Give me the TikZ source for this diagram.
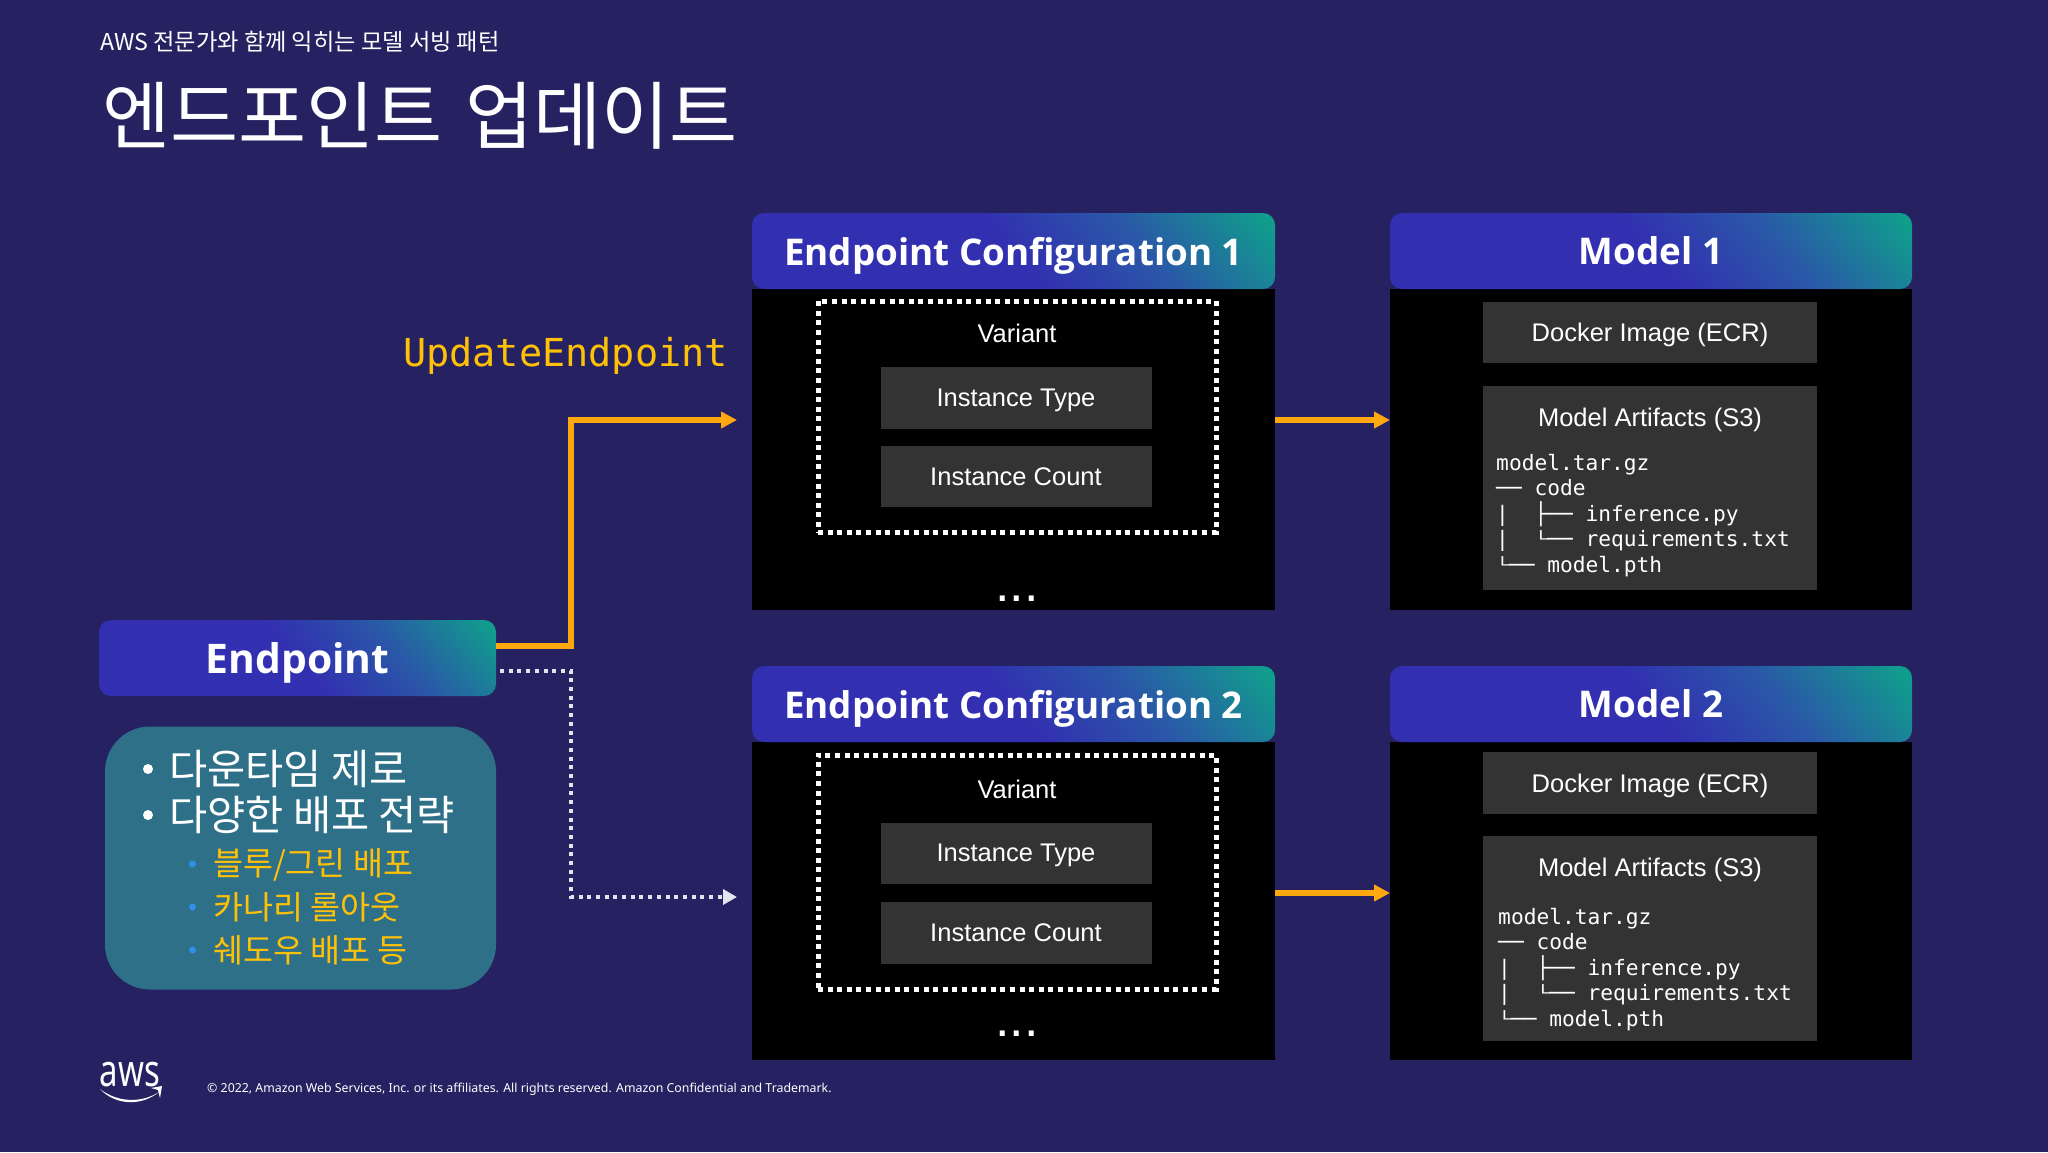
\documentclass[tikz,border=0pt]{standalone}
\usepackage{fontspec}
\usetikzlibrary{arrows.meta}
\setmainfont{Liberation Sans}
\newfontfamily\krfont{Noto Sans CJK KR}
\newfontfamily\headfont{Open Sans}
\newfontfamily\footfont{Noto Sans}
\newfontfamily\codefont{DejaVu Sans Mono}
\definecolor{bgblue}{HTML}{262262}
\definecolor{hdrblue}{HTML}{3230B0}
\definecolor{hdrmid}{HTML}{2A58A8}
\definecolor{hdrteal}{HTML}{109E8C}
\definecolor{boxgrey}{HTML}{333333}
\definecolor{panelteal}{HTML}{2E7088}
\definecolor{arrorange}{HTML}{FFA90F}
\definecolor{txtyellow}{HTML}{FFC107}
\definecolor{dotblue}{HTML}{2E90E8}
\definecolor{dotwhite}{HTML}{E4E4F0}

\pgfdeclarehorizontalshading{hdrshade}{100bp}{color(0bp)=(hdrblue); color(50bp)=(hdrblue); color(66bp)=(hdrmid); color(84bp)=(hdrteal); color(100bp)=(hdrteal)}

% short corner of the file tree
\newcommand{\treeL}{\raisebox{2pt}[0pt][0pt]{\scalebox{1}[0.7]{└}}}

\tikzset{
	header/.style={
		rectangle, rounded corners=12pt,
		shading=hdrshade, shading angle=40,
		text=white, inner sep=0pt, outer sep=0pt,
		minimum height=76pt, text depth=0pt,
		font=\headfont\bfseries\fontsize{36.8}{46}\selectfont,
	},
	panel/.style={
		rectangle, fill=black, inner sep=0pt, outer sep=0pt,
		minimum width=523pt,
	},
	greybox/.style={
		rectangle, fill=boxgrey, text=white, inner sep=0pt, outer sep=0pt, text depth=0pt,
		font=\fontsize{25.5}{30}\selectfont,
	},
	plaintxt/.style={text=white, inner sep=0pt, text depth=0pt, font=\fontsize{25.5}{30}\selectfont},
	variantbox/.style={
		rectangle, draw=white, line width=5pt, dash pattern=on 5pt off 4.6pt,
		inner sep=0pt, outer sep=0pt, minimum width=398pt,
	},
	dotstxt/.style={text=white, inner sep=0pt, font=\fontsize{52}{52}\selectfont},
	codetxt/.style={
		text=white, inner sep=0pt, align=left,
		font=\codefont\fontsize{21.2}{25.5}\selectfont,
	},
	listtxt/.style={anchor=west, inner sep=0pt, text=white, font=\krfont\fontsize{41.5}{46}\selectfont},
	subtxt/.style={anchor=west, inner sep=0pt, text=txtyellow, font=\krfont\fontsize{32.6}{36}\selectfont},
	whitedot/.style={circle, fill=white, inner sep=0pt, minimum size=10pt},
	bluedot/.style={circle, fill=dotblue, inner sep=0pt, minimum size=7pt},
	update/.style={draw=arrorange, line width=5.5pt, -{Triangle[length=16pt,width=16pt]}},
	standby/.style={draw=dotwhite, line width=4pt, dash pattern=on 4pt off 4.7pt, -{Triangle[length=14pt,width=15pt,fill=dotwhite]}},
}

\begin{document}
\begin{tikzpicture}[x=1pt,y=-1pt]
	\fill[bgblue] (0,0) rectangle (2048,1152);
	\useasboundingbox (0,0) rectangle (2048,1152);

	% title
	\node[anchor=west, inner sep=0pt, text=white, font=\krfont\fontsize{23.2}{28}\selectfont](SUBTITLE) at (100,42){AWS 전문가와 함께 익히는 모델 서빙 패턴};
	\node[anchor=west, inner sep=0pt, text=white, font=\krfont\fontsize{74}{84}\selectfont](TITLE) at (102,116){엔드포인트\hspace{6.5pt} 업데이트};

	% endpoint
	\node[header, minimum width=397pt, font=\headfont\bfseries\fontsize{40.8}{46}\selectfont](ENDP) at (297.5,658){Endpoint};
	\node[rectangle, fill=panelteal, rounded corners=45pt, minimum width=391pt, minimum height=263pt, inner sep=0pt](LIST) at (300.5,858){};
	\node[listtxt](LI1) at (169,769){다운타임 제로};
	\node[listtxt](LI2) at (169,815){다양한 배포 전략};
	\node[subtxt](LI3) at (213,865){블루/그린 배포};
	\node[subtxt](LI4) at (213,907){카나리 롤아웃};
	\node[subtxt](LI5) at (213,950){쉐도우 배포 등};
	\node[whitedot](B1) at (148,769){};
	\node[whitedot](B2) at (148,815){};
	\node[bluedot](B3) at (192.5,864){};
	\node[bluedot](B4) at (192.5,907){};
	\node[bluedot](B5) at (192.5,950){};

	% configuration 1
	\node[panel, minimum height=321pt](BODY1) at (1013.5,449.5){};
	\node[header, above of=BODY1, node distance=198.5pt, minimum width=523pt](CFG1){Endpoint Configuration 1};
	\node[variantbox, below of=CFG1, node distance=165.5pt, xshift=3.5pt, minimum height=231pt](VAR1){};
	\node[plaintxt, below of=CFG1, node distance=82pt, xshift=3.5pt](VTXT1){Variant};
	\node[greybox, below of=VTXT1, node distance=65pt, xshift=-1pt, minimum width=271pt, minimum height=62pt](TYPE1){Instance Type};
	\node[greybox, below of=TYPE1, node distance=78.5pt, minimum width=271pt, minimum height=61pt](COUNT1){Instance Count};
	\node[dotstxt, below of=COUNT1, node distance=122pt, xshift=1pt](DOTS1){...};

	% configuration 2
	\node[panel, below of=BODY1, node distance=451.5pt, minimum height=318pt](BODY2){};
	\node[header, above of=BODY2, node distance=197pt, minimum width=523pt](CFG2){Endpoint Configuration 2};
	\node[variantbox, below of=CFG2, node distance=168pt, xshift=3.5pt, minimum height=234pt](VAR2){};
	\node[plaintxt, below of=CFG2, node distance=85pt, xshift=3.5pt](VTXT2){Variant};
	\node[greybox, below of=VTXT2, node distance=64pt, xshift=-1pt, minimum width=271pt, minimum height=61pt](TYPE2){Instance Type};
	\node[greybox, below of=TYPE2, node distance=80pt, minimum width=271pt, minimum height=62pt](COUNT2){Instance Count};
	\node[dotstxt, below of=COUNT2, node distance=101pt, xshift=1pt](DOTS2){...};

	% model 1
	\node[panel, right of=BODY1, node distance=637.5pt, minimum width=522pt, minimum height=321pt](MBODY1){};
	\node[header, above of=MBODY1, node distance=198.5pt, minimum width=522pt](MOD1){Model 1};
	\node[greybox, below of=MOD1, node distance=81.5pt, xshift=-1pt, minimum width=334pt, minimum height=61pt](DOCK1){Docker Image (ECR)};
	\node[greybox, below of=DOCK1, node distance=155.5pt, minimum width=334pt, minimum height=204pt](ARTS1){};
	\node[plaintxt, below of=DOCK1, node distance=84.5pt](ATXT1){Model Artifacts (S3)};
	\node[codetxt, below of=ATXT1, node distance=98.5pt, xshift=-7pt](CODE1){model.tar.gz\\── code\\|~~├── inference.py\\|~~\treeL── requirements.txt\\\treeL── model.pth};

	% model 2
	\node[panel, right of=BODY2, node distance=637.5pt, minimum width=522pt, minimum height=318pt](MBODY2){};
	\node[header, above of=MBODY2, node distance=197pt, minimum width=522pt](MOD2){Model 2};
	\node[greybox, below of=MOD2, node distance=79pt, xshift=-1pt, minimum width=334pt, minimum height=62pt](DOCK2){Docker Image (ECR)};
	\node[greybox, below of=DOCK2, node distance=155.5pt, minimum width=334pt, minimum height=205pt](ARTS2){};
	\node[plaintxt, below of=DOCK2, node distance=84pt](ATXT2){Model Artifacts (S3)};
	\node[codetxt, below of=ATXT2, node distance=102.5pt, xshift=-5pt](CODE2){model.tar.gz\\── code\\|~~├── inference.py\\|~~\treeL── requirements.txt\\\treeL── model.pth};

	% connectors
	\node[text=txtyellow, inner sep=0pt, font=\codefont\fontsize{38.5}{44}\selectfont](UPD) at (565.5,356){UpdateEndpoint};
	\coordinate(IN1) at (737,420);
	\coordinate(IN2) at (737,897);
	\draw[update] ([yshift=12pt]ENDP.east) -- ++(75,0) |- (IN1);
	\draw[standby] ([yshift=-13pt,xshift=4pt]ENDP.east) -- ++(71,0) |- (IN2);
	\draw[update] ([yshift=29.5pt]BODY1.east) -- ([yshift=29.5pt]MBODY1.west);
	\draw[update] ([yshift=8pt]BODY2.east) -- ([yshift=8pt]MBODY2.west);

	% logo and footer
	\node[inner sep=0pt, text=white, font=\footfont\fontsize{33}{36}\selectfont](AWS) at (130,1075){\scalebox{1}[1.35]{aws}};
	\coordinate(SM1) at (100,1089);
	\coordinate(SM2) at (159,1092);
	\fill[white] (SM1) .. controls (118,1103) and (142,1103) .. (SM2) .. controls (142,1106) and (116,1106) .. (SM1);
	\fill[white] (151,1088) -- (162,1086) -- (160,1098) -- (158,1090) -- cycle;
	\node[anchor=west, inner sep=0pt, text=white, font=\footfont\fontsize{12.35}{15}\selectfont](FOOT) at (207,1089){© 2022, Amazon Web Services, Inc. or its affiliates. All rights reserved. Amazon Confidential and Trademark.};
\end{tikzpicture}
\end{document}
